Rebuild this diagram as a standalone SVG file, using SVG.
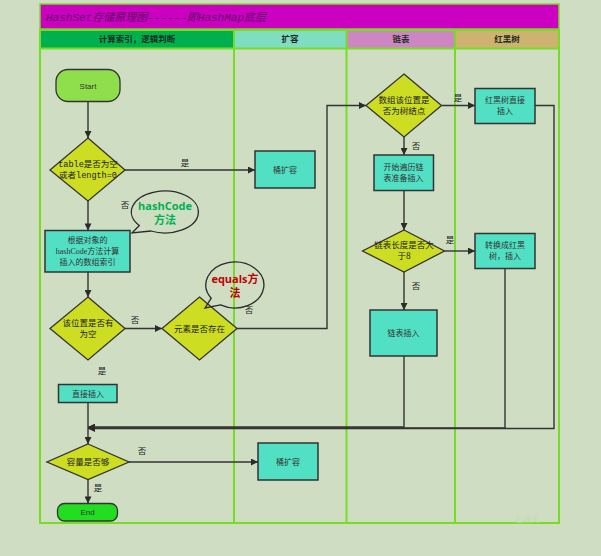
<svg xmlns="http://www.w3.org/2000/svg" width="601" height="556" viewBox="0 0 601 556">
<defs>
<marker id="ah" viewBox="0 0 10 10" refX="10" refY="5" markerWidth="9" markerHeight="7" markerUnits="userSpaceOnUse" orient="auto">
<path d="M0,0 L10,5 L0,10 Z" fill="#2b2b2b"/>
</marker>
<style>
.lane{stroke:#77dd22;stroke-width:2;fill:none}
.box{fill:#52e0c4;stroke:#333;stroke-width:1.5}
.dia{fill:#ccdd22;stroke:#333;stroke-width:1.3}
.con{fill:none;stroke:#333;stroke-width:1.4}
.arr{marker-end:url(#ah)}
.t{font-family:"Liberation Serif","Noto Sans CJK SC",serif;font-size:8px;fill:#333;text-anchor:middle}
.m{font-family:"Liberation Mono","Noto Sans CJK SC",monospace;font-size:8.5px;fill:#222;text-anchor:middle}
.s{font-family:"Liberation Sans",Arial,sans-serif;font-size:8px;fill:#333;text-anchor:middle}
.lbl{font-family:"Noto Sans CJK SC",sans-serif;font-size:8.5px;fill:#222;text-anchor:middle}
.hd{font-family:"Noto Sans CJK SC",sans-serif;font-size:8.5px;font-weight:bold;fill:#1e2e1e;text-anchor:middle}
.bub{fill:none;stroke:#2b2b2b;stroke-width:1.3}
.bt{font-family:"Open Sans","Noto Sans CJK SC",sans-serif;font-size:11px;font-weight:bold;text-anchor:middle}
</style>
</defs>
<rect x="0" y="0" width="601" height="556" fill="#cfdec3"/>
<g id="frame">
<rect x="40" y="4" width="519" height="25" fill="#cc00c0" stroke="#77dd22" stroke-width="1.5"/>
<text x="46" y="21" font-family="Liberation Mono,'Noto Sans CJK SC',monospace" font-size="11" font-style="italic" fill="#5e0a66">HashSet存储原理图------即HashMap底层</text>
<rect x="40" y="30" width="194" height="18" fill="#00b04e"/>
<rect x="234" y="30" width="112.5" height="18" fill="#7fdec2"/>
<rect x="346.5" y="30" width="108.5" height="18" fill="#cd86c2"/>
<rect x="455" y="30" width="104" height="18" fill="#cdb271"/>
<text class="hd" x="137" y="42">计算索引，逻辑判断</text>
<text class="hd" x="290" y="42">扩容</text>
<text class="hd" x="401" y="42">链表</text>
<text class="hd" x="507" y="42">红黑树</text>
<rect class="lane" x="40" y="30" width="519" height="493"/>
<line class="lane" x1="40" y1="48.5" x2="559" y2="48.5"/>
<line class="lane" x1="234" y1="30" x2="234" y2="523"/>
<line class="lane" x1="346.5" y1="30" x2="346.5" y2="523"/>
<line class="lane" x1="455" y1="30" x2="455" y2="523"/>
<text x="527" y="522" font-family="Noto Sans CJK SC,sans-serif" font-size="8" fill="#c2dcae" text-anchor="middle">石淋天</text>
</g>
<g id="connectors">
<path class="con arr" d="M88,102 V138"/>
<path class="con arr" d="M125,170 H255"/>
<path class="con arr" d="M88,201 V230.5"/>
<path class="con arr" d="M88,272 V297"/>
<path class="con arr" d="M125,328.5 H162"/>
<path class="con arr" d="M237,328.5 H327 V105.5 H366"/>
<path class="con arr" d="M441.5,105.5 H475"/>
<path class="con arr" d="M404,137 V155"/>
<path class="con arr" d="M404,190.5 V230"/>
<path class="con arr" d="M444.5,251 H475"/>
<path class="con arr" d="M404,272 V310"/>
<path class="con arr" d="M535,105.5 H554 V428.5 H88"/>
<path class="con arr" d="M505,268.5 V428 H88"/>
<path class="con arr" d="M404,356 V427 H88"/>
<path class="con arr" d="M88,402.5 V444"/>
<path class="con arr" d="M129,462 H258"/>
<path class="con arr" d="M88,479.5 V503.5"/>
<text class="lbl" x="185" y="166">是</text>
<text class="lbl" x="125" y="208">否</text>
<text class="lbl" x="135" y="323">否</text>
<text class="lbl" x="249" y="313">否</text>
<text class="lbl" x="458" y="101">是</text>
<text class="lbl" x="416" y="149">否</text>
<text class="lbl" x="450" y="243">是</text>
<text class="lbl" x="416" y="289">否</text>
<text class="lbl" x="102" y="374">是</text>
<text class="lbl" x="142" y="454">否</text>
<text class="lbl" x="98" y="491">是</text>
</g>
<g id="start">
<rect x="56" y="69.5" width="64" height="32" rx="12" fill="#8fdf4d" stroke="#333" stroke-width="1.3"/>
<text class="s" x="88" y="88.5">Start</text>
</g>
<g id="d-table">
<polygon class="dia" points="88,138 125,170 88,201 50,170"/>
<text class="m" x="88" y="167">table是否为空</text>
<text class="m" x="88" y="178">或者length=0</text>
</g>
<g id="b-expand1">
<rect class="box" x="255" y="151" width="60" height="37"/>
<text class="t" x="285" y="172.5">桶扩容</text>
</g>
<g id="b-index">
<rect class="box" x="45" y="230.5" width="85" height="41.5"/>
<text class="t" x="87.5" y="243">根据对象的</text>
<text class="t" x="87.5" y="254">hashCode方法计算</text>
<text class="t" x="87.5" y="265">插入的数组索引</text>
</g>
<g id="bubble-hash">
<path class="bub" d="M150.8,231 A33.5,21 0 1 0 139.3,225.5 L132,233 Z"/>
<text class="bt" x="165" y="210" fill="#00b050">hashCode</text>
<text class="bt" x="165" y="224" fill="#00b050">方法</text>
</g>
<g id="d-empty">
<polygon class="dia" points="88,297 125,328.5 88,360 50,328.5"/>
<text class="lbl" x="88" y="326">该位置是否有</text>
<text class="lbl" x="88" y="337">为空</text>
</g>
<g id="d-exists">
<polygon class="dia" points="199.5,297 237,328.5 199.5,360 162,328.5"/>
<text class="lbl" x="199.5" y="331.5">元素是否存在</text>
</g>
<g id="bubble-equals">
<path class="bub" d="M220.5,304.9 A29,23 0 1 0 211.2,298.2 L205,308 Z"/>
<text class="bt" x="235" y="283" fill="#c00000">equals方</text>
<text class="bt" x="235" y="297" fill="#c00000">法</text>
</g>
<g id="d-tree">
<polygon class="dia" points="404,74 441.5,105.5 404,137 366,105.5"/>
<text class="lbl" x="404" y="103">数组该位置是</text>
<text class="lbl" x="404" y="114">否为树结点</text>
</g>
<g id="b-rbinsert">
<rect class="box" x="475" y="88.5" width="60" height="35"/>
<text class="t" x="505" y="103">红黑树直接</text>
<text class="t" x="505" y="114">插入</text>
</g>
<g id="b-traverse">
<rect class="box" x="374" y="155" width="59.5" height="35.5"/>
<text class="t" x="403.5" y="170">开始遍历链</text>
<text class="t" x="403.5" y="181">表准备插入</text>
</g>
<g id="d-len">
<polygon class="dia" points="404,230 444.5,251 404,272 362.5,251"/>
<text class="lbl" x="404" y="248">链表长度是否大</text>
<text class="lbl" x="404" y="259">于8</text>
</g>
<g id="b-convert">
<rect class="box" x="475" y="233.5" width="60" height="35"/>
<text class="t" x="505" y="248">转换成红黑</text>
<text class="t" x="505" y="259">树，插入</text>
</g>
<g id="b-listinsert">
<rect class="box" x="370" y="310" width="67" height="46"/>
<text class="t" x="403.5" y="336">链表插入</text>
</g>
<g id="b-direct">
<rect class="box" x="58.5" y="384.5" width="58.5" height="18"/>
<text class="t" x="88" y="396.5">直接插入</text>
</g>
<g id="d-cap">
<polygon class="dia" points="88,444 129,462 88,479.5 47,462"/>
<text class="lbl" x="88" y="465">容量是否够</text>
</g>
<g id="b-expand2">
<rect class="box" x="258" y="443" width="60" height="37"/>
<text class="t" x="288" y="464.5">桶扩容</text>
</g>
<g id="end">
<rect x="57.5" y="503.5" width="60" height="17.5" rx="7" fill="#22dd22" stroke="#333" stroke-width="1.3"/>
<text class="s" x="87.5" y="515">End</text>
</g>
</svg>
